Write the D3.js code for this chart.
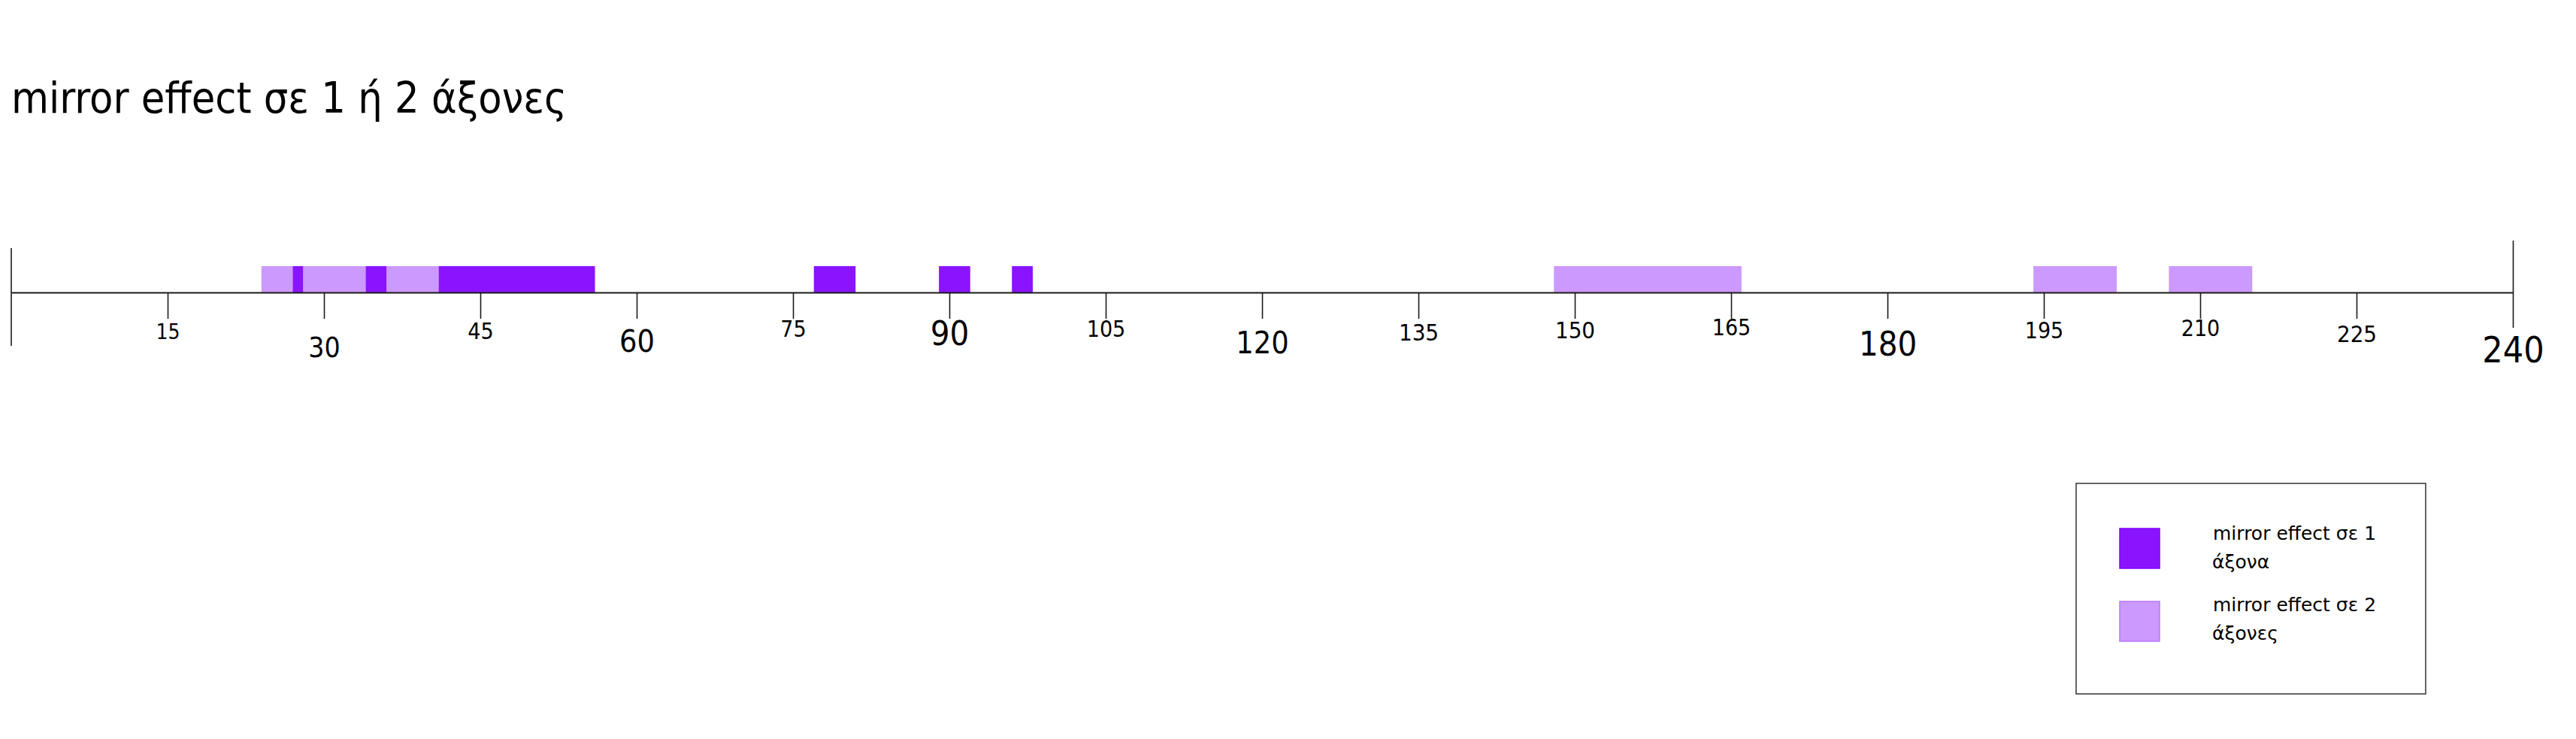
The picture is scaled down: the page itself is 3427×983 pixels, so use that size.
<!DOCTYPE html>
<html>
<head>
<meta charset="utf-8">
<script src="https://cdn.jsdelivr.net/npm/d3@7"></script>
<style>
  html, body { margin: 0; padding: 0; background: #ffffff; }
  svg { display: block; }
</style>
</head>
<body>
<svg id="chart" width="3427" height="983"></svg>
<script>
// ---- data ----
const chartTitle = "mirror effect σε 1 ή 2 άξονες";
const seriesNames = ["mirror effect σε 1 άξονα", "mirror effect σε 2 άξονες"];
const legendLines = [["mirror effect σε 1", "άξονα"], ["mirror effect σε 2", "άξονες"]];
// intervals [start, end] on the 0–240 scale
const oneAxisIntervals = [[27, 28], [34, 36], [41, 56], [77, 81], [89, 92], [96, 98]];
const twoAxesIntervals = [[24, 27], [28, 34], [36, 41], [148, 166], [194, 202], [207, 215]];
const domainMin = 0;
const domainMax = 240;
const tickValues = [15, 30, 45, 60, 75, 90, 105, 120, 135, 150, 165, 180, 195, 210, 225, 240];

// ---- styles (not data) ----
const colors = ["#8b14ff", "#cc99ff"];
const strokeColors = ["#8000ff", "#b877f5"];
// per-label font size and baseline offset below the axis line
const tickLabelSize = {15:28, 30:37, 45:30, 60:41, 75:30, 90:45, 105:30, 120:41, 135:31, 150:31, 165:30, 180:45, 195:30, 210:30, 225:31, 240:48};
const tickLabelDrop = {15:62, 30:86, 45:62, 60:79, 75:59, 90:70, 105:59, 120:81, 135:64, 150:61, 165:57, 180:84, 195:61, 210:58, 225:66, 240:93};

const svg = d3.select("#chart");
const axisY = 389;
const barH = 35;
const lineColor = "#1a1a1a";

const x = d3.scaleLinear().domain([domainMin, domainMax]).range([15, 3343]);

// title
svg.append("text")
  .attr("x", 15).attr("y", 150)
  .attr("font-family", "'DejaVu Sans Condensed', 'DejaVu Sans', sans-serif")
  .attr("font-size", 57)
  .attr("fill", "#000")
  .text(chartTitle);

// bars
const allBars = [];
twoAxesIntervals.forEach(d => allBars.push({s: 1, a: d[0], b: d[1]}));
oneAxisIntervals.forEach(d => allBars.push({s: 0, a: d[0], b: d[1]}));

svg.append("g").selectAll("rect").data(allBars).join("rect")
  .attr("x", d => x(d.a))
  .attr("width", d => x(d.b) - x(d.a))
  .attr("y", axisY - barH)
  .attr("height", barH)
  .attr("fill", d => colors[d.s]);

// axis
const axis = d3.axisBottom(x)
  .tickValues(tickValues)
  .tickSize(35)
  .tickSizeOuter(0)
  .tickPadding(0)
  .tickFormat(d3.format("d"));

const gAxis = svg.append("g")
  .attr("transform", `translate(0,${axisY})`)
  .call(axis);

gAxis.select(".domain").attr("stroke", lineColor).attr("stroke-width", 2.2);
gAxis.selectAll(".tick line").attr("stroke", lineColor).attr("stroke-width", 1.6);
gAxis.selectAll(".tick text")
  .attr("font-family", "'DejaVu Sans Condensed', 'DejaVu Sans', sans-serif")
  .attr("fill", "#000")
  .attr("dy", 0)
  .attr("font-size", d => tickLabelSize[d])
  .attr("y", d => tickLabelDrop[d]);
// the 240 end marker is a long line through the axis
gAxis.selectAll(".tick").filter(d => d === domainMax).select("line")
  .attr("y1", 320 - axisY).attr("y2", 436 - axisY);

// start marker at 0
svg.append("line")
  .attr("x1", x(domainMin)).attr("x2", x(domainMin))
  .attr("y1", 330).attr("y2", 460)
  .attr("stroke", lineColor).attr("stroke-width", 1.6);

// legend
const lg = svg.append("g");
lg.append("rect")
  .attr("x", 2762).attr("y", 643).attr("width", 465).attr("height", 280)
  .attr("fill", "#fff").attr("stroke", "#333").attr("stroke-width", 1.5);

const swY = [703, 800];
const txtY = [718, 813];
seriesNames.forEach((name, i) => {
  lg.append("rect")
    .attr("x", 2820).attr("y", swY[i]).attr("width", 53).attr("height", 53)
    .attr("fill", colors[i]).attr("stroke", strokeColors[i]).attr("stroke-width", 1.5);
  const t = lg.append("text")
    .attr("x", 2944).attr("y", txtY[i])
    .attr("font-family", "'DejaVu Sans', sans-serif")
    .attr("font-size", 25).attr("fill", "#000");
  legendLines[i].forEach((ln, j) => {
    t.append("tspan").attr("x", j === 0 ? 2944 : 2943).attr("dy", j === 0 ? 0 : 38).text(ln);
  });
  t.append("title").text(name);
});
</script>
</body>
</html>
